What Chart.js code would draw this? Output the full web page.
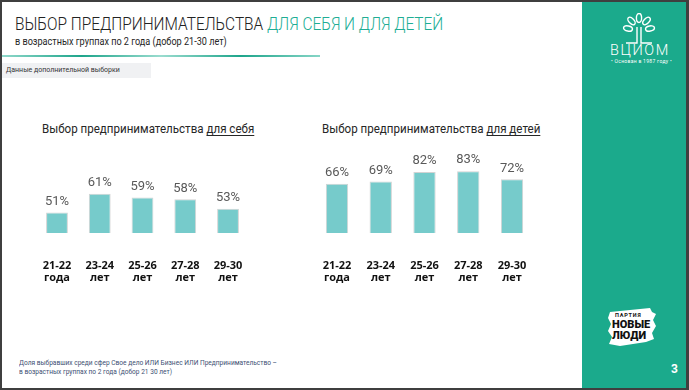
<!DOCTYPE html>
<html>
<head>
<meta charset="utf-8">
<script src="https://cdn.jsdelivr.net/npm/chart.js@4.4.0/dist/chart.umd.min.js"></script>
<style>
  html, body { margin: 0; padding: 0; }
  body { width: 689px; height: 390px; background: #3f3f3f; position: relative; overflow: hidden; font-family: "Roboto", sans-serif; }
  #slide { position: absolute; left: 2px; top: 2px; width: 684px; height: 386px; background: #fff; overflow: hidden; }
  .abs { position: absolute; white-space: nowrap; transform-origin: 0 0; }
  #title { left: 15px; top: 13px; font-size: 18.5px; font-weight: 300; color: #222; transform: scaleX(0.835); }
  #title span { color: #20ad94; }
  #subtitle { left: 15px; top: 36px; font-size: 10px; color: #262626; transform: scaleX(0.91); }
  #rule { top: 55px; width: 318px; height: 2px; background: linear-gradient(90deg, #8fd8ca 0%, #1ea58b 25%, #9adccf 50%, #1ea58b 75%, #86d5c6 100%); }
  #extra { top: 63px; width: 149px; height: 15px; background: #f0f1f3; font-size: 7px; color: #333; line-height: 15px; padding-left: 4px; box-sizing: border-box; }
  .ctitle { font-size: 13px; color: #262626; transform: scaleX(0.89); }
  .ctitle u { text-underline-offset: 2px; }
  #note { left: 19px; top: 359px; font-size: 7px; line-height: 9px; color: #3d4f73; transform: scaleX(0.94); }
  #panel { width: 104px; height: 386px; background: #1baa8c; }
  #vciom { left: 610px; top: 42px; font-size: 14.5px; font-weight: 300; color: #fff; letter-spacing: 1.6px; }
  #since { left: 611px; top: 58px; font-size: 5px; color: #fff; letter-spacing: 0.3px; }
  #page { left: 671px; top: 362px; font-size: 12px; font-weight: 700; color: #fff; }
  canvas { position: absolute; }
</style>
</head>
<body>
<div id="slide"></div>
<div class="abs" id="panel" style="left:582px;top:2px;"></div>
<div class="abs" id="title">ВЫБОР ПРЕДПРИНИМАТЕЛЬСТВА <span>ДЛЯ СЕБЯ И ДЛЯ ДЕТЕЙ</span></div>
<div class="abs" id="subtitle">в возрастных группах по 2 года (добор 21-30 лет)</div>
<div class="abs" id="rule" style="left:2px;"></div>
<div class="abs" id="extra" style="left:2px;">Данные дополнительной выборки</div>
<div class="abs ctitle" style="left:42px;top:121px;">Выбор предпринимательства <u>для себя</u></div>
<div class="abs ctitle" style="left:322px;top:121px;">Выбор предпринимательства <u>для детей</u></div>
<div class="abs" id="note">Доля выбравших среди сфер Свое дело ИЛИ Бизнес ИЛИ Предпринимательство –<br>в возрастных группах по 2 года (добор 21 30 лет)</div>

<svg class="abs" style="left:620px;top:13px;" width="40" height="34" viewBox="0 0 40 34">
  <g fill="none" stroke="#fff" stroke-width="1.4">
    <ellipse cx="19" cy="5" rx="2.6" ry="4.5"/>
    <ellipse cx="11.5" cy="8" rx="2.6" ry="4.5" transform="rotate(-45 11.5 8)"/>
    <ellipse cx="26.5" cy="8" rx="2.6" ry="4.5" transform="rotate(45 26.5 8)"/>
    <ellipse cx="8" cy="15.5" rx="2.6" ry="4.5" transform="rotate(-80 8 15.5)"/>
    <ellipse cx="30" cy="15.5" rx="2.6" ry="4.5" transform="rotate(80 30 15.5)"/>
    <path d="M17 14 L17 30 L6 30"/>
    <path d="M21 14 L21 30 L32 30"/>
  </g>
</svg>
<div class="abs" id="vciom">ВЦИОМ</div>
<div class="abs" id="since">• Основан в 1987 году •</div>

<svg class="abs" style="left:606px;top:306px;" width="52" height="42" viewBox="0 0 52 42">
  <path d="M4 6 L44 2 L46 6 L50 8 L47 14 L50 20 L46 27 L48 33 L40 36 L14 40 L3 38 L6 31 L2 25 L5 18 L2 12 Z" fill="#fff"/>
  <text x="9" y="11" font-family="Roboto" font-size="5.5" font-weight="700" fill="#111" letter-spacing="0.8">ПАРТИЯ</text>
  <text x="6" y="22" font-family="Roboto" font-size="11" font-weight="900" fill="#111">НОВЫЕ</text>
  <text x="6" y="33" font-family="Roboto" font-size="11" font-weight="900" fill="#111">ЛЮДИ</text>
</svg>
<div class="abs" id="page">3</div>

<canvas id="left" width="250" height="150" style="left:20px;top:140px;"></canvas>
<canvas id="right" width="250" height="150" style="left:300px;top:140px;"></canvas>

<script>
// age groups (two-line tick labels)
var ageGroups = [["21-22", "года"], ["23-24", "лет"], ["25-26", "лет"], ["27-28", "лет"], ["29-30", "лет"]];
// % choosing entrepreneurship for themselves
var forSelf = [51, 61, 59, 58, 53];
// % choosing entrepreneurship for their children
var forChildren = [66, 69, 82, 83, 72];

// draws the "NN%" value above each bar
var valueLabels = {
  id: "valueLabels",
  afterDatasetsDraw: function (chart) {
    var ctx = chart.ctx;
    var meta = chart.getDatasetMeta(0);
    var data = chart.data.datasets[0].data;
    ctx.save();
    ctx.font = "13px Roboto";
    ctx.fillStyle = "#595959";
    ctx.textAlign = "center";
    ctx.textBaseline = "middle";
    meta.data.forEach(function (bar, i) {
      ctx.fillText(data[i] + "%", bar.x, bar.y - 11);
    });
    ctx.restore();
  }
};

function makeChart(id, values, yMin, yMax, pad) {
  return new Chart(document.getElementById(id), {
    type: "bar",
    data: {
      labels: ageGroups,
      datasets: [{
        data: values,
        backgroundColor: "#76cbcb",
        borderColor: "#d3d3d3",
        borderWidth: 1,
        barPercentage: 0.51,
        categoryPercentage: 1
      }]
    },
    options: {
      responsive: false,
      animation: false,
      layout: { padding: pad },
      plugins: { legend: { display: false }, tooltip: { enabled: false } },
      scales: {
        x: {
          // invisible tick marks used only as a gap between bars and labels
          grid: { display: false, drawTicks: true, tickLength: 24 },
          border: { display: false },
          ticks: {
            padding: 3,
            color: "#111",
            font: { family: "Open Sans", size: 11, weight: "bold", lineHeight: 1.06 }
          }
        },
        y: { display: false, min: yMin, max: yMax }
      }
    },
    plugins: [valueLabels]
  });
}

makeChart("left", forSelf, 40, 80, { left: 15.6, right: 20.6, top: 18.2, bottom: 3.7 });
makeChart("right", forChildren, 0, 100, { left: 15.1, right: 16.1, top: 18.5, bottom: 3.7 });
</script>
</body>
</html>
